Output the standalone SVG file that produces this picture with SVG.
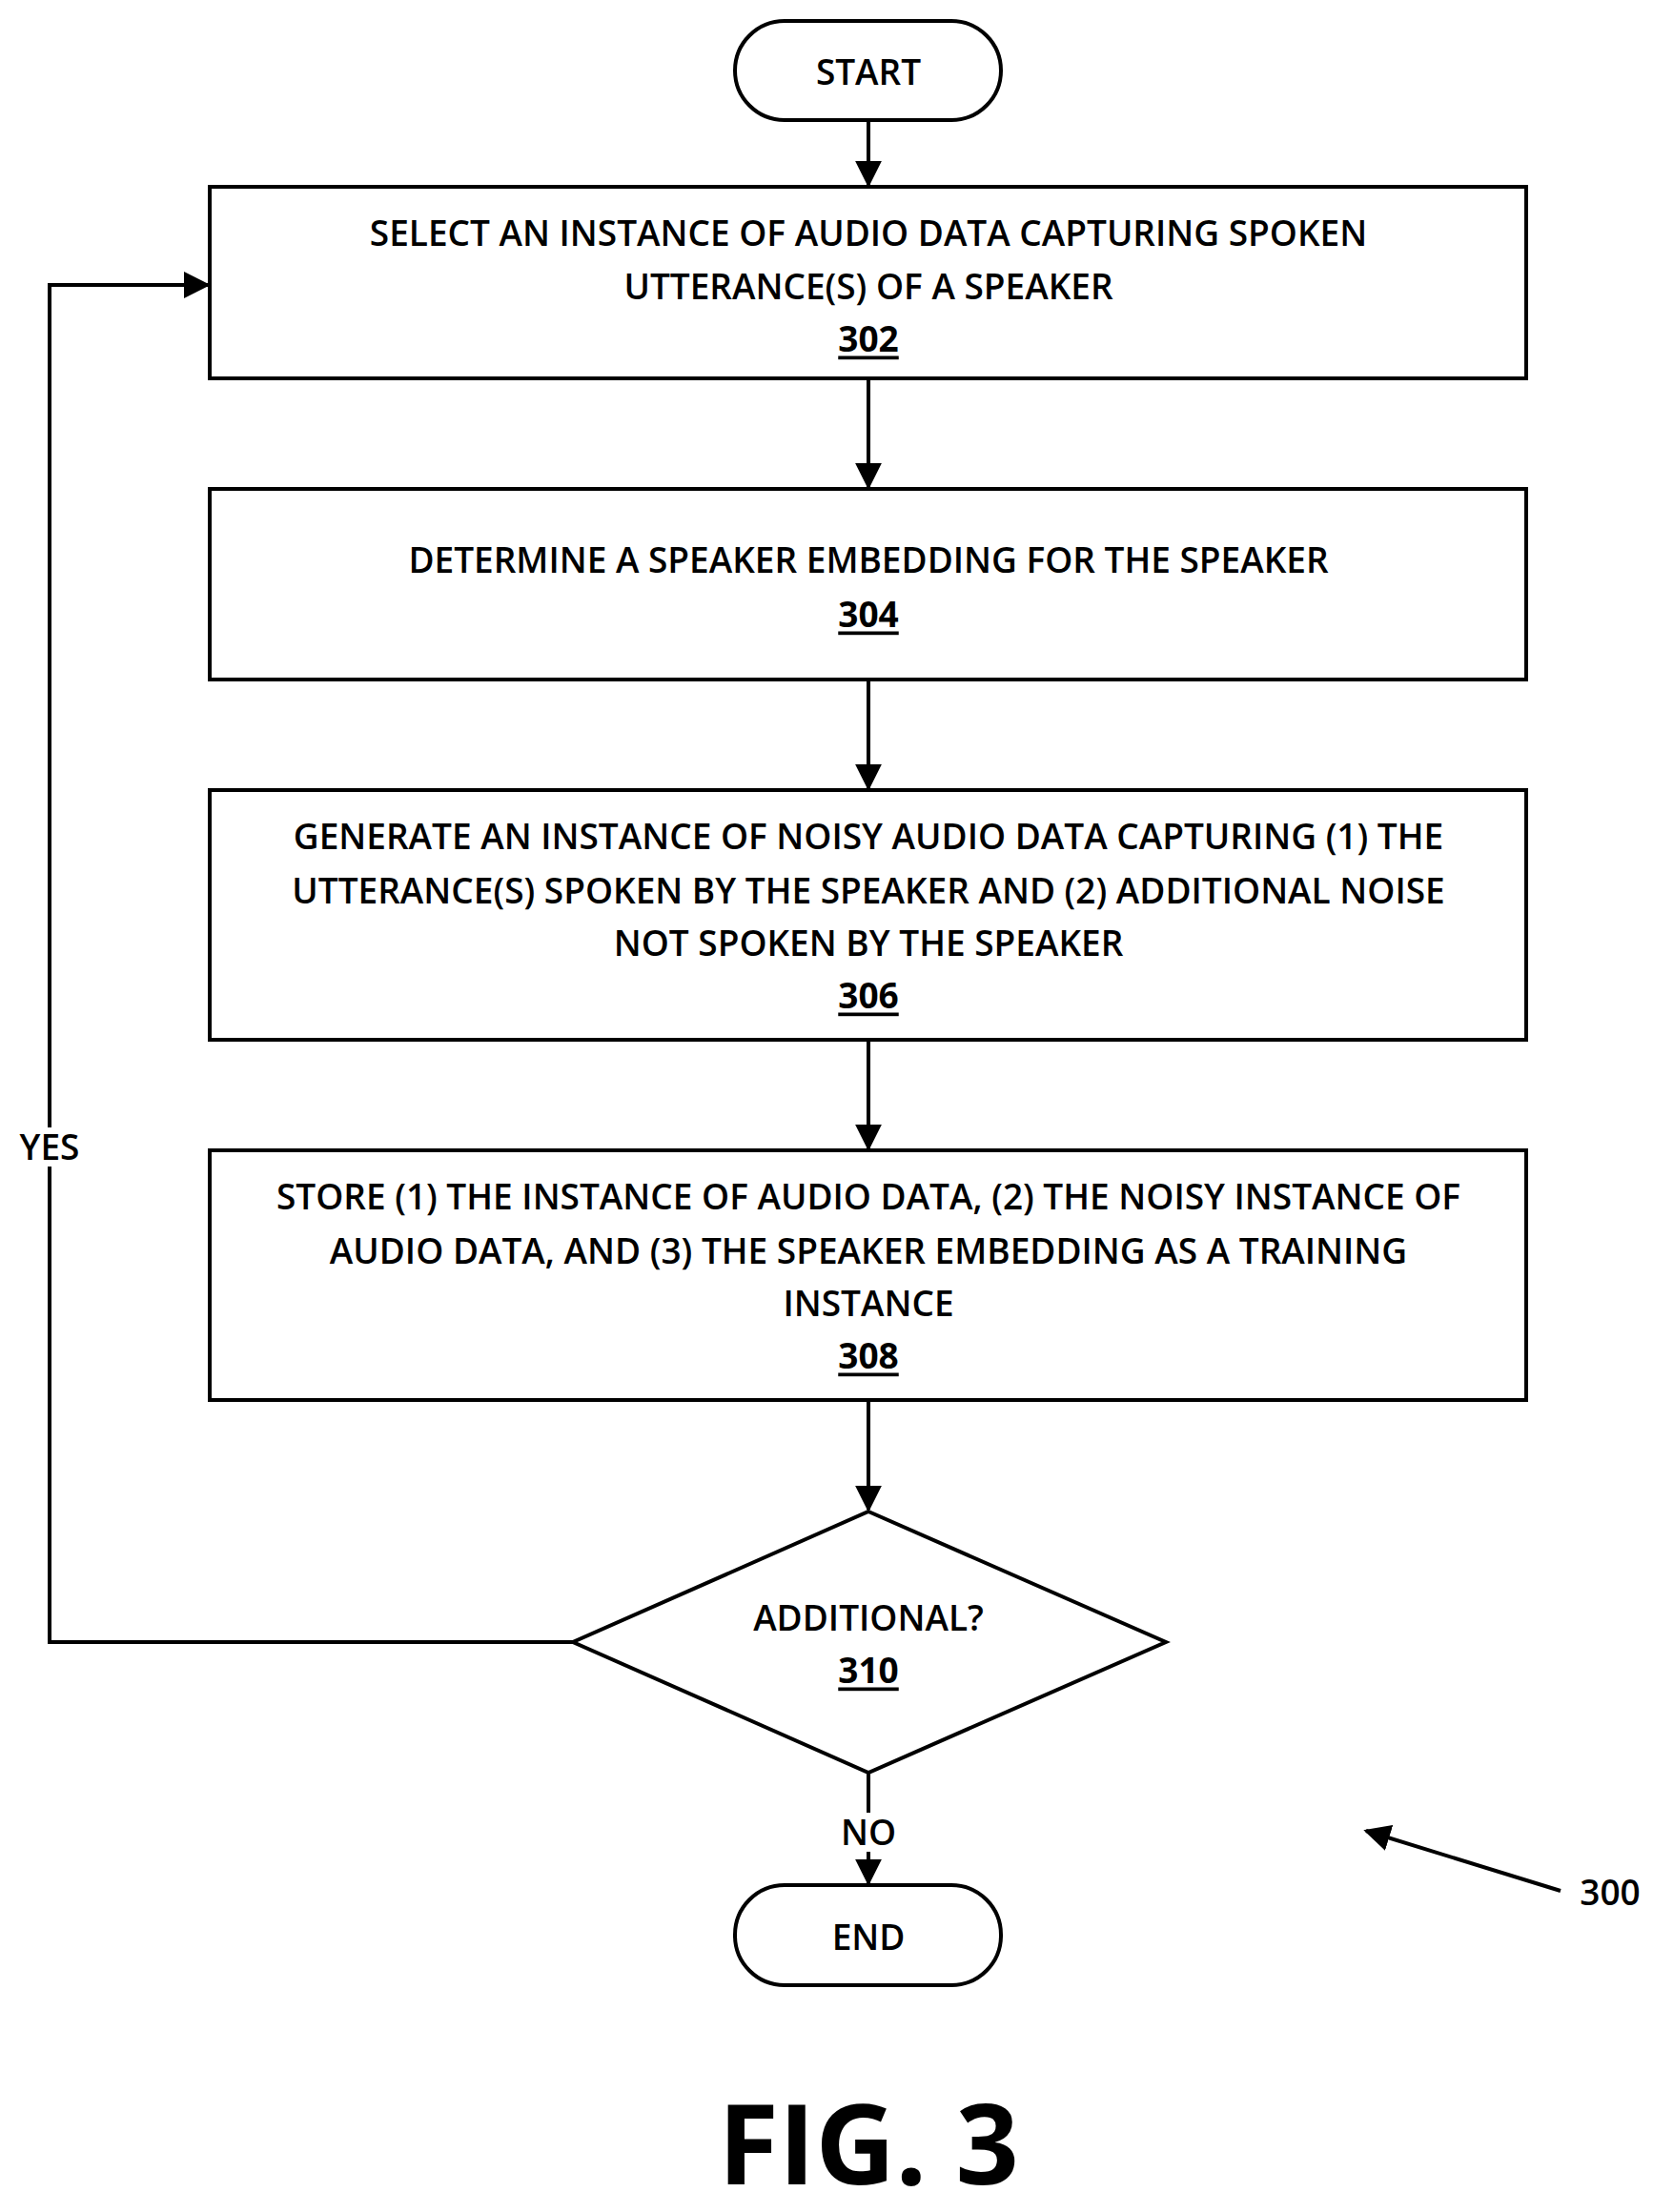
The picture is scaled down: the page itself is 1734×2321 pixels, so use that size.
<svg xmlns="http://www.w3.org/2000/svg" width="1734" height="2321" viewBox="0 0 1734 2321">
<style>
.s{fill:#fff;stroke:#000;stroke-width:4}
.t{font-family:"Open Sans","Liberation Sans",sans-serif;font-size:37px;font-weight:600;text-anchor:middle;dominant-baseline:central;fill:#000}
.u{text-decoration:underline;font-weight:bold}
.c{fill:none;stroke:#000;stroke-width:4}
</style>
<defs><marker id="b" viewBox="0 0 10 10" refX="9" refY="5" markerWidth="28" markerHeight="28" orient="auto" markerUnits="userSpaceOnUse"><path d="M0,0L10,5L0,10z"/></marker></defs>
<rect width="1734" height="2321" fill="#fff"/>
<g id="start"><rect class="s" x="771" y="22" width="279" height="104" rx="52"/><text class="t" x="911" y="74">START</text></g>
<g id="n302"><rect class="s" x="220" y="196" width="1381" height="201"/><text class="t" x="911" y="243">SELECT AN INSTANCE OF AUDIO DATA CAPTURING SPOKEN</text><text class="t" x="911" y="299">UTTERANCE(S) OF A SPEAKER</text><text class="t u" x="911" y="354">302</text></g>
<g id="n304"><rect class="s" x="220" y="513" width="1381" height="200"/><text class="t" x="911" y="586">DETERMINE A SPEAKER EMBEDDING FOR THE SPEAKER</text><text class="t u" x="911" y="643">304</text></g>
<g id="n306"><rect class="s" x="220" y="829" width="1381" height="262"/><text class="t" x="911" y="876">GENERATE AN INSTANCE OF NOISY AUDIO DATA CAPTURING (1) THE</text><text class="t" x="911" y="933">UTTERANCE(S) SPOKEN BY THE SPEAKER AND (2) ADDITIONAL NOISE</text><text class="t" x="911" y="988">NOT SPOKEN BY THE SPEAKER</text><text class="t u" x="911" y="1043">306</text></g>
<g id="n308"><rect class="s" x="220" y="1207" width="1381" height="262"/><text class="t" x="911" y="1254">STORE (1) THE INSTANCE OF AUDIO DATA, (2) THE NOISY INSTANCE OF</text><text class="t" x="911" y="1311">AUDIO DATA, AND (3) THE SPEAKER EMBEDDING AS A TRAINING</text><text class="t" x="911" y="1366">INSTANCE</text><text class="t u" x="911" y="1421">308</text></g>
<g id="n310"><polygon class="s" points="911,1586 1223,1723 911,1860 601,1723"/><text class="t" x="911" y="1696">ADDITIONAL?</text><text class="t u" x="911" y="1751">310</text></g>
<g id="end"><rect class="s" x="771" y="1978" width="279" height="105" rx="52"/><text class="t" x="911" y="2031">END</text></g>
<g id="connectors">
<path class="c" d="M911,126V194" marker-end="url(#b)"/>
<path class="c" d="M911,397V511" marker-end="url(#b)"/>
<path class="c" d="M911,713V827" marker-end="url(#b)"/>
<path class="c" d="M911,1091V1205" marker-end="url(#b)"/>
<path class="c" d="M911,1469V1584" marker-end="url(#b)"/>
<path class="c" d="M911,1860V1976" marker-end="url(#b)"/>
<path class="c" d="M601,1723H52V299H218" marker-end="url(#b)"/>
<path class="c" d="M1637,1984L1433,1921" marker-end="url(#b)"/>
</g>
<text class="t" x="52" y="1202" style="stroke:#fff;stroke-width:14;paint-order:stroke">YES</text>
<text class="t" x="911" y="1921" style="stroke:#fff;stroke-width:14;paint-order:stroke">NO</text>
<text class="t" x="1689" y="1984">300</text>
<text x="911" y="2292" style="font-family:'Open Sans','Liberation Sans',sans-serif;font-size:116px;font-weight:bold;text-anchor:middle">FIG. 3</text>
</svg>
